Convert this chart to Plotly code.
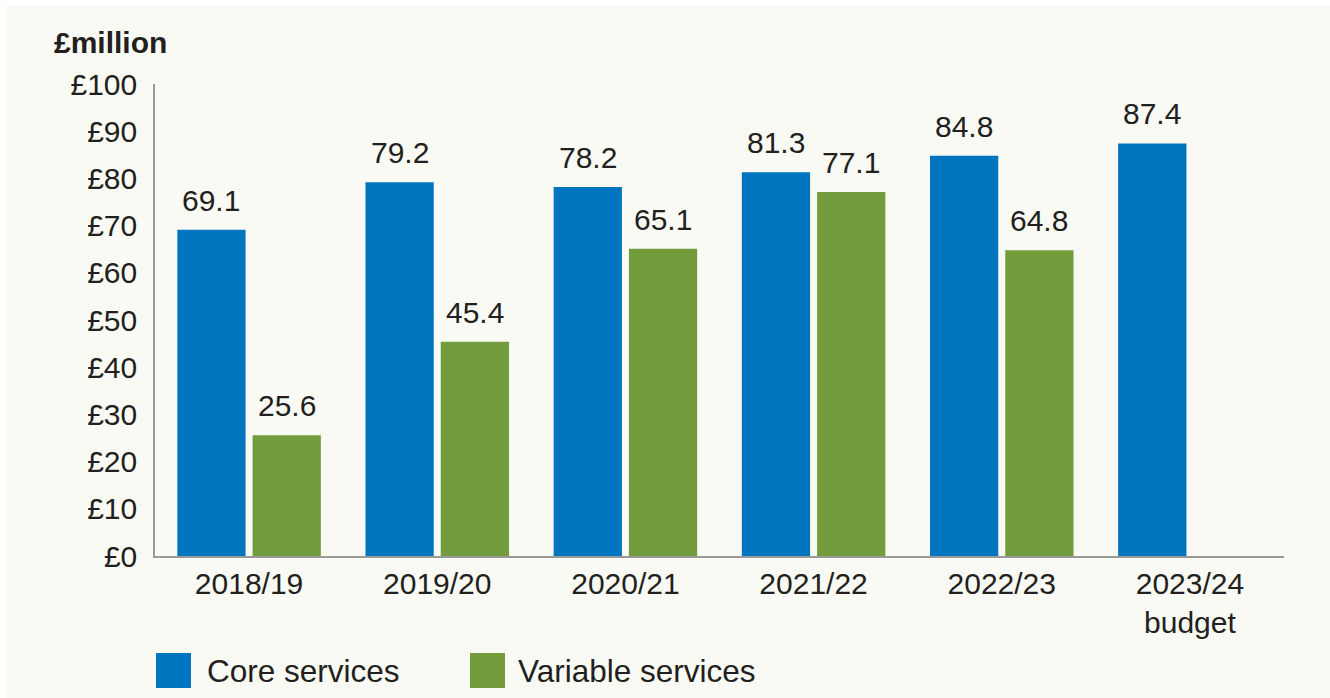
import plotly.graph_objects as go

categories = ["2018/19", "2019/20", "2020/21", "2021/22", "2022/23", "2023/24<br>budget"]
core_services = [69.1, 79.2, 78.2, 81.3, 84.8, 87.4]
variable_services = [25.6, 45.4, 65.1, 77.1, 64.8, None]
y_tickvals = [0, 10, 20, 30, 40, 50, 60, 70, 80, 90, 100]
y_ticktext = ["£" + str(v) for v in y_tickvals]

BLUE = "#0075BF"
GREEN = "#739C3D"
BG = "#F9FAF3"
TXT = "#231F20"
FONT = "Liberation Sans, Arial, Helvetica, sans-serif"
FS = 30

W, H = 1330, 698
ML, MR, MT, MB = 155, 46, 84, 142
PW, PH = W - ML - MR, H - MT - MB
BARGAP = 0.2
BARGROUPGAP = 0.093


def px_x(p):
    return (p - ML) / PW


def px_y(p):
    return (H - MB - p) / PH


fig = go.Figure()
fig.add_trace(go.Bar(x=categories, y=core_services, name="Core services",
                     marker=dict(color=BLUE, line=dict(width=0)), showlegend=False))
fig.add_trace(go.Bar(x=categories, y=variable_services, name="Variable services",
                     marker=dict(color=GREEN, line=dict(width=0)), showlegend=False))

slot = PW / len(categories) * (1 - BARGAP) / 2
annotations = []
for series, shift in ((core_services, -slot / 2), (variable_services, slot / 2)):
    for c, v in zip(categories, series):
        if v is None:
            continue
        annotations.append(dict(x=c, y=v, xref="x", yref="y", text=f"{v:.1f}",
                                showarrow=False, yanchor="bottom", xanchor="center",
                                xshift=shift, yshift=11,
                                font=dict(family=FONT, size=FS, color=TXT)))

# axis title
annotations.append(dict(x=px_x(52), y=px_y(42), xref="paper", yref="paper",
                        text="<b>£million</b>", showarrow=False, xanchor="left",
                        yanchor="middle", font=dict(family=FONT, size=FS, color=TXT)))

# manual legend
shapes = []
legend_items = [("Core services", BLUE, 156, 205), ("Variable services", GREEN, 470, 516)]
for name, col, sx, tx in legend_items:
    shapes.append(dict(type="rect", xref="paper", yref="paper",
                       x0=px_x(sx), x1=px_x(sx + 35), y0=px_y(688), y1=px_y(653),
                       fillcolor=col, line=dict(width=0)))
    annotations.append(dict(x=px_x(tx), y=px_y(671), xref="paper", yref="paper",
                            text=name, showarrow=False, xanchor="left", yanchor="middle",
                            font=dict(family=FONT, size=31.5, color=TXT)))

# white border strips (top and left)
shapes.append(dict(type="rect", xref="paper", yref="paper", x0=px_x(-5), x1=px_x(W + 5),
                   y0=px_y(5), y1=px_y(-5), fillcolor="white", line=dict(width=0), layer="above"))
shapes.append(dict(type="rect", xref="paper", yref="paper", x0=px_x(-5), x1=px_x(6),
                   y0=px_y(H + 5), y1=px_y(-5), fillcolor="white", line=dict(width=0), layer="above"))

fig.update_layout(
    width=W, height=H,
    margin=dict(l=ML, r=MR, t=MT, b=MB, pad=0),
    paper_bgcolor=BG, plot_bgcolor=BG,
    barmode="group", bargap=BARGAP, bargroupgap=BARGROUPGAP,
    font=dict(family=FONT, size=FS, color=TXT),
    annotations=annotations, shapes=shapes,
    showlegend=False,
)
fig.update_xaxes(showline=True, linecolor="#9A9A9A", linewidth=1.5, ticks="",
                 showgrid=False, zeroline=False, ticklabelstandoff=0,
                 tickfont=dict(family=FONT, size=FS, color=TXT))
fig.update_yaxes(range=[0, 100], tickvals=y_tickvals, ticktext=y_ticktext,
                 showline=True, linecolor="#9A9A9A", linewidth=1.5, ticks="",
                 showgrid=False, zeroline=False, ticklabelstandoff=10,
                 tickfont=dict(family=FONT, size=FS, color=TXT))

fig.write_html("out.html", config={"displayModeBar": False},
               post_script="document.body.style.margin='0';document.body.style.overflow='hidden';")
